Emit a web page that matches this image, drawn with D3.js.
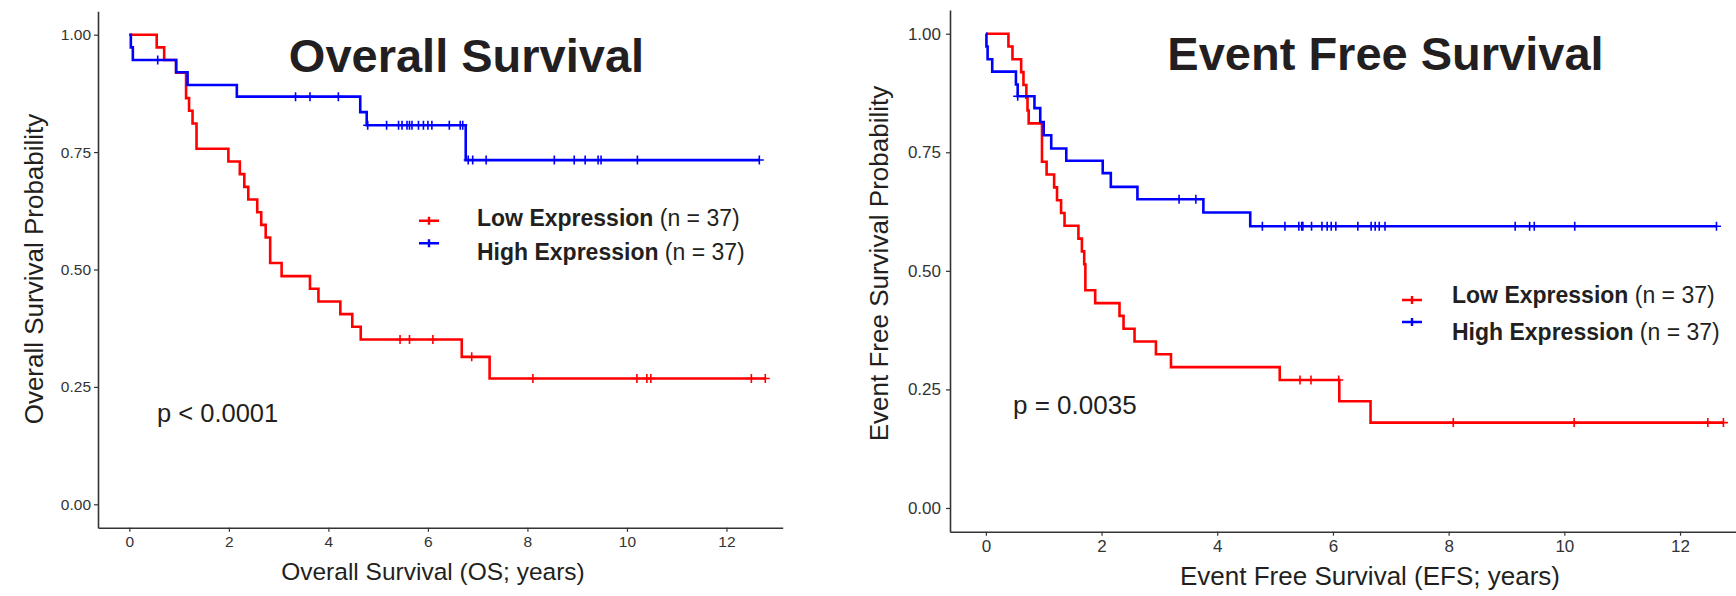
<!DOCTYPE html>
<html>
<head>
<meta charset="utf-8">
<script src="https://cdn.jsdelivr.net/npm/d3@7"></script>
<style>
  body { margin: 0; background: #fff; }
  svg { display: block; }
  text { font-family: "Liberation Sans", Arial, Helvetica, sans-serif; }
</style>
</head>
<body>
<svg id="chart" width="1736" height="596"></svg>
<script>
// Kaplan-Meier curves: step times (years) and survival after each step

// Overall survival
var osLowTimes = [0, 0.55, 0.70, 0.94, 1.14, 1.20, 1.27, 1.35, 1.99, 2.22, 2.31, 2.39, 2.57, 2.65, 2.74, 2.83, 3.06, 3.63, 3.80, 4.24, 4.48, 4.65, 6.68, 7.24, 12.78];
var osLowSurv  = [1, 0.973, 0.946, 0.919, 0.865, 0.838, 0.811, 0.757, 0.730, 0.703, 0.676, 0.649, 0.622, 0.595, 0.568, 0.514, 0.486, 0.459, 0.432, 0.405, 0.378, 0.351, 0.314, 0.268, 0.268];
var osLowCensor = [5.44, 5.63, 6.10, 6.88, 8.11, 10.20, 10.40, 10.48, 12.50, 12.78];

var osHighTimes = [0, 0.03, 0.07, 0.94, 1.17, 2.16, 4.64, 4.77, 6.76, 12.66];
var osHighSurv  = [1, 0.973, 0.946, 0.920, 0.893, 0.868, 0.835, 0.807, 0.733, 0.733];
var osHighCensor = [0.57, 3.34, 3.63, 4.20, 4.79, 5.17, 5.41, 5.48, 5.58, 5.63, 5.68, 5.81, 5.91, 6.00, 6.08,
                    6.43, 6.65, 6.70, 6.81, 6.90, 7.17, 8.54, 8.94, 9.16, 9.42, 9.48, 10.21, 12.66];

// Event free survival
var efsLowTimes = [0, 0.39, 0.46, 0.61, 0.65, 0.70, 0.72, 0.74, 0.97, 1.05, 1.18, 1.23, 1.30, 1.36, 1.60, 1.66, 1.70, 1.72, 1.89, 2.31, 2.38, 2.57, 2.94, 3.20, 5.08, 6.11, 6.65, 12.75];
var efsLowSurv  = [1, 0.973, 0.946, 0.919, 0.892, 0.865, 0.838, 0.811, 0.730, 0.703, 0.676, 0.649, 0.622, 0.595, 0.568, 0.541, 0.514, 0.459, 0.432, 0.405, 0.378, 0.351, 0.324, 0.297, 0.270, 0.225, 0.180, 0.180];
var efsLowCensor = [5.43, 5.62, 6.10, 8.08, 10.17, 12.48, 12.75];

var efsHighTimes = [0, 0.01, 0.03, 0.11, 0.52, 0.55, 0.84, 0.94, 1.00, 1.13, 1.39, 2.02, 2.16, 2.62, 3.76, 4.57, 12.63];
var efsHighSurv  = [1, 0.973, 0.946, 0.920, 0.893, 0.868, 0.843, 0.814, 0.786, 0.758, 0.732, 0.706, 0.677, 0.651, 0.623, 0.594, 0.594];
var efsHighCensor = [0.55, 3.34, 3.63, 4.78, 5.17, 5.41, 5.46, 5.48, 5.63, 5.81, 5.90, 5.97, 6.05, 6.43, 6.66,
                     6.73, 6.80, 6.90, 9.15, 9.40, 9.48, 10.18, 12.63];

var xTicks = [0, 2, 4, 6, 8, 10, 12];
var yTicks = [0, 0.25, 0.50, 0.75, 1.00];
var groupNames = ["Low Expression", "High Expression"];
var groupN = ["(n = 37)", "(n = 37)"];
var groupColors = ["#ff0000", "#0000ff"];

var svg = d3.select("#chart");
var ink = "#231f20";

var panels = [
  {
    title: "Overall Survival", xTitle: "Overall Survival (OS; years)", yTitle: "Overall Survival Probability",
    pText: "p < 0.0001",
    curves: [[osLowTimes, osLowSurv, osLowCensor], [osHighTimes, osHighSurv, osHighCensor]],
    xDomain: [-0.63, 13.13], left: 98, right: 782.7, bottom: 527.8, top: 11.2,
    tickFont: 15.5, tickPadY: 3,
    titleX: 466.5, titleY: 71.5, xTitleX: 433, xTitleY: 580, xTitleFont: 24.5,
    yTitleX: 43, yTitleY: 269,
    pX: 157, pY: 421.5, pFont: 25.5,
    legSymX: 419, legSymY: [220.7, 243.3], legTextX: 477, legTextY: [225.7, 260], legFont: 23
  },
  {
    title: "Event Free Survival", xTitle: "Event Free Survival (EFS; years)", yTitle: "Event Free Survival Probability",
    pText: "p = 0.0035",
    curves: [[efsLowTimes, efsLowSurv, efsLowCensor], [efsHighTimes, efsHighSurv, efsHighCensor]],
    xDomain: [-0.62, 13.13], left: 950, right: 1745.4, bottom: 531.7, top: 10,
    tickFont: 17, tickPadY: 5,
    titleX: 1385.5, titleY: 70, xTitleX: 1370, xTitleY: 585, xTitleFont: 26,
    yTitleX: 888, yTitleY: 263.5,
    pX: 1013, pY: 414.3, pFont: 26,
    legSymX: 1402, legSymY: [300, 322], legTextX: 1452, legTextY: [303, 340], legFont: 23
  }
];

panels.forEach(drawPanel);

function drawPanel(p) {
  var g = svg.append("g");

  var x = d3.scaleLinear().domain(p.xDomain).range([p.left, p.right]);
  var y = d3.scaleLinear().domain([-0.05, 1.05]).range([p.bottom, p.top]);

  // axes
  var xAxis = g.append("g")
    .attr("transform", "translate(0," + p.bottom + ")")
    .call(d3.axisBottom(x).tickValues(xTicks).tickFormat(d3.format("d"))
      .tickSize(4).tickSizeOuter(0).tickPadding(4));
  var yAxis = g.append("g")
    .attr("transform", "translate(" + p.left + ",0)")
    .call(d3.axisLeft(y).tickValues(yTicks).tickFormat(d3.format(".2f"))
      .tickSize(4).tickSizeOuter(0).tickPadding(p.tickPadY));

  [xAxis, yAxis].forEach(function(a) {
    a.select(".domain").attr("stroke", "#333").attr("stroke-width", 1.6);
    a.selectAll(".tick line").attr("stroke", "#333").attr("stroke-width", 1.2);
    a.selectAll(".tick text").attr("fill", "#333").style("font-size", p.tickFont + "px");
  });

  // survival curves
  var line = d3.line()
    .x(function(d) { return x(d[0]); })
    .y(function(d) { return y(d[1]); })
    .curve(d3.curveStepAfter);

  p.curves.forEach(function(c, i) {
    var times = c[0], surv = c[1], censor = c[2];
    var pts = times.map(function(t, k) { return [t, surv[k]]; });

    g.append("path")
      .datum(pts)
      .attr("d", line)
      .attr("fill", "none")
      .attr("stroke", groupColors[i])
      .attr("stroke-width", 2.6);

    // censor marks sit on the step level at that time
    var survAt = function(t) {
      var k = d3.bisectRight(times, t) - 1;
      return surv[Math.max(k, 0)];
    };
    g.append("g").selectAll("path")
      .data(censor)
      .enter()
      .append("path")
      .attr("d", function(t) {
        var cx = x(t), cy = y(survAt(t));
        return "M" + (cx - 4.5) + "," + cy + "H" + (cx + 4.5) + "M" + cx + "," + (cy - 4.5) + "V" + (cy + 4.5);
      })
      .attr("stroke", groupColors[i])
      .attr("stroke-width", 1.6)
      .attr("fill", "none");
  });

  // legend
  groupNames.forEach(function(name, i) {
    var sy = p.legSymY[i];
    g.append("path")
      .attr("d", "M" + p.legSymX + "," + sy + "h20M" + (p.legSymX + 10) + "," + (sy - 4) + "v8")
      .attr("stroke", groupColors[i])
      .attr("stroke-width", 2.4)
      .attr("fill", "none");
    var t = g.append("text")
      .attr("x", p.legTextX)
      .attr("y", p.legTextY[i])
      .attr("fill", ink)
      .style("font-size", p.legFont + "px");
    t.append("tspan").attr("font-weight", "bold").text(name);
    t.append("tspan").text(" " + groupN[i]);
  });

  // title, p value, axis titles
  g.append("text")
    .attr("x", p.titleX).attr("y", p.titleY)
    .attr("text-anchor", "middle")
    .attr("font-weight", "bold")
    .attr("fill", ink)
    .style("font-size", "47px")
    .text(p.title);

  g.append("text")
    .attr("x", p.pX).attr("y", p.pY)
    .attr("fill", ink)
    .style("font-size", p.pFont + "px")
    .text(p.pText);

  g.append("text")
    .attr("x", p.xTitleX).attr("y", p.xTitleY)
    .attr("text-anchor", "middle")
    .attr("fill", ink)
    .style("font-size", p.xTitleFont + "px")
    .text(p.xTitle);

  g.append("text")
    .attr("transform", "translate(" + p.yTitleX + "," + p.yTitleY + ") rotate(-90)")
    .attr("text-anchor", "middle")
    .attr("fill", ink)
    .style("font-size", "26px")
    .text(p.yTitle);
}
</script>
</body>
</html>
